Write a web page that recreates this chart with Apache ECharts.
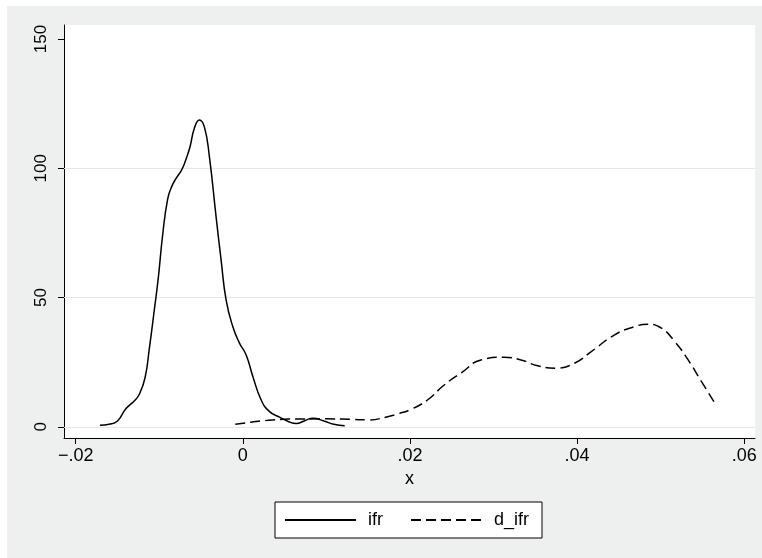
<!DOCTYPE html>
<html>
<head>
<meta charset="utf-8">
<script src="https://cdn.jsdelivr.net/npm/echarts@6/dist/echarts.min.js"></script>
<style>
  html, body { margin: 0; padding: 0; background: #ffffff; }
  #chart { width: 762px; height: 558px; }
</style>
</head>
<body>
<div id="chart"></div>
<script>
// ---- data ----
const ifrX = [-0.0171, -0.0160, -0.0150, -0.0140, -0.0130, -0.0124, -0.0117, -0.0112, -0.0106, -0.0101, -0.0096, -0.0090, -0.0085, -0.0080, -0.0073, -0.0068, -0.0063, -0.0058, -0.0052, -0.0046, -0.0040, -0.0032, -0.0026, -0.0020, -0.0012, -0.0004, 0.0004, 0.0012, 0.0022, 0.0032, 0.0044, 0.0055, 0.0064, 0.0074, 0.0084, 0.0097, 0.0109, 0.0122];
const ifrY = [0.6, 1.0, 2.3, 7.0, 10.0, 12.5, 19.0, 30.0, 45.0, 58.0, 74.0, 88.0, 93.0, 96.0, 99.5, 103.5, 108.5, 115.5, 118.7, 116.0, 104.5, 81.3, 64.6, 49.1, 38.8, 32.4, 27.8, 19.5, 10.4, 5.9, 3.8, 2.0, 1.3, 2.4, 3.3, 2.3, 1.0, 0.4];

const difrX = [-0.0009, 0.0010, 0.0026, 0.0055, 0.0097, 0.0130, 0.0150, 0.0171, 0.0185, 0.0200, 0.0221, 0.0241, 0.0262, 0.0285, 0.0313, 0.0333, 0.0353, 0.0375, 0.0397, 0.0417, 0.0445, 0.0469, 0.0485, 0.0501, 0.0517, 0.0533, 0.0549, 0.0567];
const difrY = [1.0, 1.8, 2.4, 3.0, 3.1, 2.9, 2.7, 3.7, 5.0, 6.6, 10.4, 16.2, 21.0, 25.9, 26.9, 25.9, 23.6, 22.7, 24.6, 29.1, 35.6, 38.8, 39.7, 38.2, 33.0, 25.9, 17.5, 8.1];

const seriesNames = ['ifr', 'd_ifr'];
const xTicks = [-0.02, 0, 0.02, 0.04, 0.06];
const yTicks = [0, 50, 100, 150];
const yGrid = [0, 50, 100];
const xTitle = 'x';

// ---- chart ----
const FONT = '"Liberation Sans", Arial, Helvetica, sans-serif';
function zip(xs, ys) { return xs.map((x, i) => [x, ys[i]]); }
function fmtX(v) {
  if (Math.abs(v) < 1e-12) return '0';
  const s = Math.abs(v).toFixed(2).replace(/^0/, '');
  return (v < 0 ? '\u2212' : '') + s;
}

const chart = echarts.init(document.getElementById('chart'), null, { renderer: 'canvas' });
const option = {
  backgroundColor: 'transparent',
  animation: false,
  graphic: [{
    type: 'rect', left: 7, top: 6, z: -10, silent: true,
    shape: { width: 755, height: 552 },
    style: { fill: '#eef0ef' }
  }],
  grid: {
    left: 64, top: 25, right: 7, bottom: 120,
    show: true, backgroundColor: '#ffffff', borderWidth: 0
  },
  legend: {
    left: 275, top: 502,
    data: seriesNames,
    backgroundColor: '#ffffff',
    borderColor: '#000000', borderWidth: 1,
    padding: [9, 13, 9, 9],
    itemWidth: 71, itemHeight: 14, itemGap: 27,
    itemStyle: { opacity: 0, borderWidth: 0 },
    textStyle: { fontFamily: FONT, fontSize: 18, color: '#000', padding: [0, 0, 0, 7] }
  },
  xAxis: {
    type: 'value',
    min: -0.0214, max: 0.0613,
    name: xTitle, nameLocation: 'middle', nameGap: 32,
    nameTextStyle: { fontFamily: FONT, fontSize: 18, color: '#000' },
    axisLine: { show: true, onZero: false, lineStyle: { color: '#000', width: 1 } },
    axisTick: { show: true, length: 6, customValues: xTicks, lineStyle: { color: '#000' } },
    axisLabel: { customValues: xTicks, formatter: fmtX, fontFamily: FONT, fontSize: 18, color: '#000', margin: 9 },
    splitLine: { show: false }
  },
  yAxis: {
    type: 'value',
    min: -4.3, max: 155.4,
    axisLine: { show: true, onZero: false, lineStyle: { color: '#000', width: 1 } },
    axisTick: { show: true, length: 6, customValues: yTicks, lineStyle: { color: '#000' } },
    axisLabel: { customValues: yTicks, rotate: 90, fontFamily: FONT, fontSize: 17, color: '#000', margin: 14 },
    splitLine: { show: false }
  },
  series: [
    {
      name: seriesNames[0], type: 'line', data: zip(ifrX, ifrY),
      showSymbol: false, symbol: 'none', smooth: 0.5,
      lineStyle: { color: '#000', width: 1.5, type: 'solid' },
      itemStyle: { color: '#000' },
      markLine: {
        silent: true, symbol: 'none', label: { show: false },
        lineStyle: { color: '#e6e8e8', width: 1.2, type: 'solid' },
        data: yGrid.map(v => ({ yAxis: v })),
        z: 1
      },
      z: 3
    },
    {
      name: seriesNames[1], type: 'line', data: zip(difrX, difrY),
      showSymbol: false, symbol: 'none', smooth: 0.5,
      lineStyle: { color: '#000', width: 1.5, type: [10, 5] },
      itemStyle: { color: '#000' },
      z: 3
    }
  ]
};
chart.setOption(option);
</script>
</body>
</html>
